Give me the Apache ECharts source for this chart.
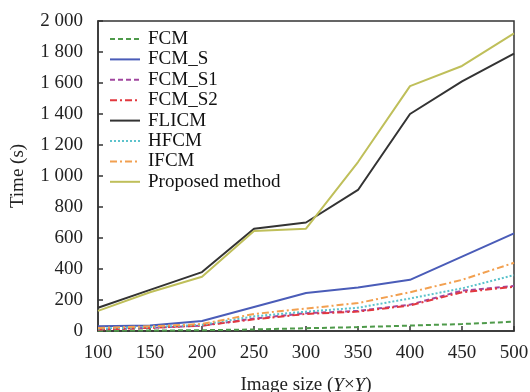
<!DOCTYPE html>
<html>
<head>
<meta charset="utf-8">
<script src="https://cdn.jsdelivr.net/npm/echarts@6/dist/echarts.min.js"></script>
<style>
  html, body { margin: 0; padding: 0; background: #fff; }
  #chart { width: 530px; height: 392px; }
</style>
</head>
<body>
<div id="chart"></div>
<script>
// 图像尺寸
let sizes = [100, 150, 200, 250, 300, 350, 400, 450, 500];
// 各方法运行时间 (s)
let fcm = [2, 3, 5, 10, 18, 25, 35, 45, 60];
let fcmS = [30, 35, 65, 155, 245, 280, 330, 480, 630];
let fcmS1 = [10, 20, 35, 80, 115, 130, 170, 260, 290];
let fcmS2 = [10, 20, 35, 75, 110, 125, 165, 250, 285];
let flicm = [150, 265, 380, 660, 700, 910, 1400, 1610, 1790];
let hfcm = [15, 25, 40, 95, 125, 150, 210, 275, 360];
let ifcm = [20, 30, 45, 110, 145, 180, 250, 330, 440];
let proposed = [130, 250, 350, 645, 660, 1090, 1580, 1710, 1920];

const font = '"Liberation Serif", "Times New Roman", serif';

function mk(name, vals, color, type) {
    return {
        name: name,
        type: 'line',
        symbol: 'circle',
        showSymbol: false,
        data: sizes.map((s, i) => [s, vals[i]]),
        lineStyle: { color: color, width: 2, type: type },
        itemStyle: { color: color }
    };
}

let chart = echarts.init(document.getElementById('chart'));
const option = {
    animation: false,
    textStyle: { fontFamily: font },
    grid: {
        left: 98, right: 16, top: 21, bottom: 61,
        outerBoundsMode: 'none',
        containLabel: false,
        show: true, borderColor: '#333', borderWidth: 1.5
    },
    legend: {
        orient: 'vertical',
        left: 109,
        top: 29,
        padding: 0,
        itemWidth: 30,
        itemHeight: 20,
        itemGap: 0.4,
        itemStyle: { opacity: 0 },
        textStyle: { fontFamily: font, fontSize: 19, lineHeight: 20, color: '#111', padding: [0, 0, 0, 3] },
        data: ['FCM', 'FCM_S', 'FCM_S1', 'FCM_S2', 'FLICM', 'HFCM', 'IFCM', 'Proposed method']
    },
    xAxis: {
        type: 'value',
        min: 100, max: 500, interval: 50,
        name: '{n|Image size (}{i|Y}{n|×}{i|Y}{n|)}',
        nameLocation: 'middle',
        nameGap: 45,
        nameTextStyle: {
            rich: {
                n: { fontFamily: font, fontSize: 19, color: '#222' },
                i: { fontFamily: font, fontSize: 19, color: '#222', fontStyle: 'italic' }
            }
        },
        axisLine: { lineStyle: { color: '#333', width: 1.5 } },
        axisTick: { inside: true, length: 5, lineStyle: { color: '#333', width: 1.5 } },
        axisLabel: { fontFamily: font, fontSize: 19, color: '#222', margin: 13 },
        splitLine: { show: false }
    },
    yAxis: {
        type: 'value',
        min: 0, max: 2000, interval: 200,
        name: 'Time (s)',
        nameLocation: 'middle',
        nameGap: 70,
        nameTextStyle: { fontFamily: font, fontSize: 19, color: '#222' },
        axisLine: { show: true, lineStyle: { color: '#333', width: 1.5 } },
        axisTick: { show: true, inside: true, length: 5, lineStyle: { color: '#333', width: 1.5 } },
        axisLabel: {
            fontFamily: font, fontSize: 19, color: '#222', margin: 15,
            formatter: v => v >= 1000 ? Math.floor(v / 1000) + ' ' + String(v % 1000).padStart(3, '0') : String(v)
        },
        splitLine: { show: false }
    },
    series: [
        mk('FCM', fcm, '#4e9a4a', [5, 3]),
        mk('FCM_S', fcmS, '#4a5cb8', 'solid'),
        mk('FCM_S1', fcmS1, '#a1479f', [5, 3]),
        mk('FCM_S2', fcmS2, '#e2383f', [7, 3, 2, 3]),
        mk('FLICM', flicm, '#333333', 'solid'),
        mk('HFCM', hfcm, '#5cc3cc', [2, 2]),
        mk('IFCM', ifcm, '#f2a050', [7, 3, 2, 3]),
        mk('Proposed method', proposed, '#bfbf5a', 'solid')
    ]
};
chart.setOption(option);
</script>
</body>
</html>
